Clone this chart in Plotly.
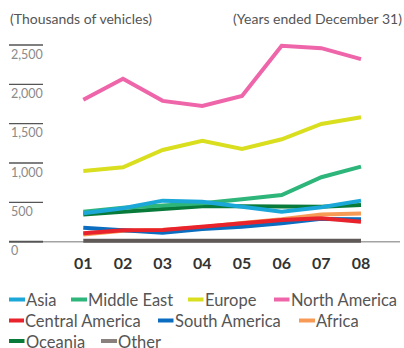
import plotly.graph_objects as go

W, H = 404, 348

years = ["01", "02", "03", "04", "05", "06", "07", "08"]
y_ticks = [0, 500, 1000, 1500, 2000, 2500]
y_tick_labels = ["0", "500", "1,000", "1,500", "2,000", "2,500"]

asia = [361, 425, 522, 509, 445, 382, 438, 522]
middle_east = [382, 432, 460, 488, 539, 594, 819, 954]
europe = [899, 946, 1166, 1281, 1179, 1302, 1497, 1582]
north_america = [1803, 2070, 1790, 1726, 1853, 2489, 2460, 2320]
central_america = [107, 145, 149, 191, 234, 276, 298, 254]
south_america = [178, 149, 115, 162, 191, 234, 290, 285]
africa = [92, 140, 150, 185, 238, 285, 345, 358]
oceania = [345, 382, 416, 450, 452, 445, 445, 467]
other = [13, 13, 13, 13, 13, 13, 13, 13]

colors = {
    "Asia": "#1ca7d9",
    "Middle East": "#2db57a",
    "Europe": "#d9de1f",
    "North America": "#ef65a9",
    "Central America": "#e8232b",
    "South America": "#0a6dbf",
    "Africa": "#f79a55",
    "Oceania": "#087a3a",
    "Other": "#8a817e",
}
other_line = "#5f5957"

# drawing order (back to front)
draw = [
    ("Other", other),
    ("Africa", africa),
    ("South America", south_america),
    ("Central America", central_america),
    ("Oceania", oceania),
    ("Middle East", middle_east),
    ("Asia", asia),
    ("Europe", europe),
    ("North America", north_america),
]

FONT = "Lato"


def px(x):
    return x / W


def py(y):
    return 1 - y / H


# axis geometry in pixels
x01, x08 = 83.3, 361.0
step = (x08 - x01) / 7
xl, xr = 9, 400
y0_px, y2500_px = 241.7, 45.0
k = (y0_px - y2500_px) / 2500  # px per unit
ymin, ymax = -100, 2600
yb = y0_px + (-ymin) * k
yt = y0_px - ymax * k

xs = list(range(1, 9))

fig = go.Figure()
for name, vals in draw:
    fig.add_trace(go.Scatter(
        x=xs, y=vals, mode="lines", name=name,
        line=dict(color=other_line if name == "Other" else colors[name], width=4),
        showlegend=False, hoverinfo="skip",
    ))

shapes = []
annotations = []

# short tick rules on the left + labels beneath them
for v, lab in zip(y_ticks, y_tick_labels):
    shapes.append(dict(type="line", xref="paper", yref="y", x0=px(9), x1=px(43), y0=v, y1=v,
                       line=dict(color="#555555", width=1.3 if v else 2)))
    annotations.append(dict(xref="paper", yref="y", x=px(8.5), y=v, yshift=-9, text=lab,
                            showarrow=False, xanchor="left", yanchor="middle",
                            font=dict(family=FONT, size=12.5, color="#8a8a8a")))
# baseline
shapes.append(dict(type="line", xref="paper", yref="y", x0=px(43), x1=px(400), y0=0, y1=0,
                   line=dict(color="#a3a3a3", width=1.5), layer="below"))

# headers
annotations.append(dict(xref="paper", yref="paper", x=px(8), y=py(18.5), text="(Thousands of vehicles)",
                        showarrow=False, xanchor="left", yanchor="middle",
                        font=dict(family=FONT, size=14, color="#555555")))
annotations.append(dict(xref="paper", yref="paper", x=px(404), y=py(18.5), text="(Years ended December 31)",
                        showarrow=False, xanchor="right", yanchor="middle",
                        font=dict(family=FONT, size=14, color="#555555")))

# legend
legend_items = [
    ("Asia", 9, 25, 299.5),
    ("Middle East", 71, 87, 299.5),
    ("Europe", 188, 203.5, 299.5),
    ("North America", 274, 289.5, 299.5),
    ("Central America", 9, 24, 320.5),
    ("South America", 158, 173.5, 320.5),
    ("Africa", 299, 315, 320.5),
    ("Oceania", 9, 24.5, 341),
    ("Other", 101, 117, 341),
]
for name, sx0, sx1, yc in legend_items:
    shapes.append(dict(type="line", xref="paper", yref="paper", x0=px(sx0), x1=px(sx1),
                       y0=py(yc), y1=py(yc), line=dict(color=colors[name], width=4)))
    annotations.append(dict(xref="paper", yref="paper", x=px(sx1), y=py(yc + 0.5), text=name,
                            showarrow=False, xanchor="left", yanchor="middle", xshift=-1,
                            font=dict(family=FONT, size=16.5, color="#555555")))

fig.update_layout(
    width=W, height=H,
    margin=dict(l=0, r=0, t=0, b=0),
    paper_bgcolor="white", plot_bgcolor="white",
    shapes=shapes, annotations=annotations,
    xaxis=dict(
        domain=[px(xl), px(xr)],
        range=[1 - (x01 - xl) / step, 8 + (xr - x08) / step],
        tickvals=xs, ticktext=years, showgrid=False, zeroline=False, showline=False,
        ticks="", tickfont=dict(family=FONT, size=16, color="#333333", weight="bold"),
        ticklabelstandoff=2,
    ),
    yaxis=dict(
        domain=[py(yb), py(yt)], range=[ymin, ymax],
        showgrid=False, zeroline=False, showline=False, showticklabels=False, ticks="",
    ),
)

fig.write_html("out.html")
